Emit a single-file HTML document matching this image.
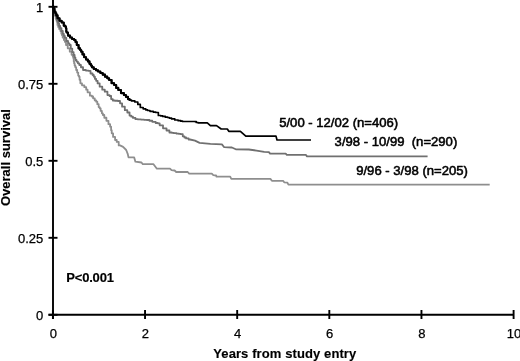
<!DOCTYPE html>
<html><head><meta charset="utf-8"><title>Overall survival</title>
<style>
html,body{margin:0;padding:0;background:#fff;}
svg{display:block;}
text{font-family:"Liberation Sans",sans-serif;font-size:13px;fill:#000;stroke:#000;stroke-width:0.55px;stroke-linejoin:round;}
.b{font-weight:bold;stroke-width:0.15px;}
.n{stroke-width:0.25px;}
.l{font-size:13.1px;}
</style></head><body>
<svg width="520" height="361" viewBox="0 0 520 361">
<rect width="520" height="361" fill="#fff"/>
<polyline points="53,6.5 53.24,6.5 53.24,8.58 53.79,8.58 53.79,11.26 54.3,11.26 54.3,13.0 54.5,13 54.9,13 54.9,15.81 55.71,15.81 55.71,18.66 56.31,18.66 56.31,20.0 56.5,20 56.73,20 56.73,21.63 57.43,21.63 57.43,24.9 58.2,24.9 58.2,27.0 58.5,27 59.15,27 59.15,29.07 60.4,29.07 60.4,31.0 61,31 61.32,31 61.32,33.54 61.82,33.54 61.82,35.0 62,35 62.64,35 62.64,37.55 63.89,37.55 63.89,40.0 64.5,40 64.92,40 64.92,41.9 66.02,41.9 66.02,45.0 66.7,45 67.72,45 67.72,48.34 69.77,48.34 69.77,51.7 70.8,51.7 71.57,51.7 71.57,54.78 72.82,54.78 72.82,56.7 73.3,56.7 73.42,56.7 73.42,58.43 73.75,58.43 73.75,61.54 74.08,61.54 74.08,63.3 74.2,63.3 74.61,63.3 74.61,65.5 75.33,65.5 75.33,67.16 76.17,67.16 76.17,70.0 76.7,70 77.17,70 77.17,72.55 78.22,72.55 78.22,75.58 78.99,75.58 78.99,76.7 79.2,76.7 79.57,76.7 79.57,79.73 80.37,79.73 80.37,83.3 80.8,83.3 81.99,83.3 81.99,85.28 84.34,85.28 84.34,87.2 85.5,87.2 86.18,87.2 86.18,89.69 87.58,89.69 87.58,92.3 88.3,92.3 89.9,92.3 89.9,95.66 91.9,95.66 91.9,96.5 92.3,96.5 93.09,96.5 93.09,98.37 94.74,98.37 94.74,100.41 96.15,100.41 96.15,101.7 96.7,101.7 97.32,101.7 97.32,104.17 98.65,104.17 98.65,107.03 99.68,107.03 99.68,108.3 100,108.3 100.64,108.3 100.64,110.91 101.87,110.91 101.87,113.29 102.88,113.29 102.88,115.0 103.3,115 104.3,115 104.3,117.77 106.4,117.77 106.4,120.8 107.5,120.8 108.45,120.8 108.45,124.21 110.1,124.21 110.1,126.7 110.8,126.7 111.11,126.7 111.11,130.16 111.71,130.16 111.71,133.3 112,133.3 113.07,133.3 113.07,136.88 115.07,136.88 115.07,140.0 116,140 116.71,140 116.71,141.93 118.71,141.93 118.71,145.4 120,145.4 123.1,146.9 126.2,150 127.7,153.8 128.5,157.4 134.2,157.4 135.4,161.7 141.5,162.5 142.8,164.2 153.5,164.2 156.9,168.7 170,168.7 171.5,170.2 174.6,170.5 176.2,172 187.7,172 189.2,173.7 211.8,173.7 213.3,175.1 216.1,175.5 216.5,176.7 230.2,176.7 231.3,178.9 270.4,178.9 271.9,180.8 283.1,180.8 284.2,182.3 287.4,182.7 288.4,184.6 489.7,184.6" fill="none" stroke="#8e8e8e" stroke-width="1.8" stroke-linejoin="round"/>
<polyline points="53,6.5 53.54,6.5 53.54,10.01 54.54,10.01 54.54,13.0 55,13 55.31,13 55.31,14.71 55.93,14.71 55.93,16.48 56.87,16.48 56.87,20.0 57.5,20 58.04,20 58.04,23.07 59.09,23.07 59.09,26.0 59.6,26 60.18,26 60.18,28.22 61.48,28.22 61.48,31.0 62.2,31 62.79,31 62.79,33.81 63.84,33.81 63.84,36.0 64.3,36 64.86,36 64.86,37.92 66.31,37.92 66.31,41.0 67.2,41 68.04,41 68.04,43.39 69.44,43.39 69.44,45.0 70,45 70.75,45 70.75,48.59 72.24,48.59 72.24,52.09 73.59,52.09 73.59,55.0 74.2,55 74.6,55 74.6,57.49 75.4,57.49 75.4,60.0 75.8,60 76.5,60 76.5,61.67 77.9,61.67 77.9,63.33 79.3,63.33 79.3,65.0 80,65 80.94,65 80.94,67.24 83.04,67.24 83.04,70.0 84.2,70 85.89,70 85.89,70.54 88.39,70.54 88.39,70.8 89.2,70.8 90.53,70.8 90.53,73.52 92.58,73.52 92.58,75.0 93.3,75 93.78,75 93.78,76.65 94.93,76.65 94.93,78.9 96.14,78.9 96.14,80.8 96.7,80.8 97.61,80.8 97.61,83.42 99.66,83.42 99.66,86.7 100.8,86.7 102.27,86.7 102.27,89.65 104.77,89.65 104.77,91.7 105.8,91.7 107.45,91.7 107.45,95.09 109.55,95.09 109.55,96.0 110,96 111.13,96 111.13,99.07 112.78,99.07 112.78,100.5 113.3,100.5 114.86,100.5 114.86,100.76 117.81,100.76 117.81,101.0 119.2,101 120.03,101 120.03,103.31 122.08,103.31 122.08,106.7 123.3,106.7 124.82,106.7 124.82,110.22 127.32,110.22 127.32,112.5 128.3,112.5 129.56,112.5 129.56,115.61 131.26,115.61 131.26,116.7 131.7,116.7 132.96,116.7 132.96,117.96 135.46,117.96 135.46,119.2 136.7,119.2 137.99,119.2 137.99,119.38 141.0,119.38 141.0,119.62 144.03,119.62 144.03,119.8 146.82,119.8 146.82,120.0 148.3,120 149.45,120 149.45,120.76 152.29,120.76 152.29,121.87 155.67,121.87 155.67,122.99 157.84,122.99 157.84,123.3 158.3,123.3 159.67,123.3 159.67,125.34 163.02,125.34 163.02,128.3 165,128.3 166.52,128.3 166.52,130.51 169.42,130.51 169.42,132.5 170.8,132.5 171.82,132.5 171.82,132.82 173.97,132.82 173.97,133.17 176.59,133.17 176.59,133.64 179.06,133.64 179.06,133.94 180.86,133.94 180.86,134.2 181.7,134.2 182.77,134.2 182.77,136.34 184.42,136.34 184.42,137.5 185,137.5 186.11,137.5 186.11,138.39 188.61,138.39 188.61,139.5 190,139.5 195,140.6 199.6,142.9 210.4,143.9 221.9,144.4 224.2,147.2 231.9,147.5 235.8,149.3 248.8,149.5 256.5,150.6 264.2,151.9 268.9,152.1 270.1,153.6 285.7,153.6 286.8,154.8 305.8,154.8 307,156.4 427.6,156.4" fill="none" stroke="#707070" stroke-width="1.8" stroke-linejoin="round"/>
<polyline points="53,6.5 53.38,6.5 53.38,8.37 54.45,8.37 54.45,11.66 55.46,11.66 55.46,13.3 55.8,13.3 56.33,13.3 56.33,15.41 57.58,15.41 57.58,18.3 58.3,18.3 59.55,18.3 59.55,20.8 61.65,20.8 61.65,22.5 62.5,22.5 63.75,22.5 63.75,25.68 65.4,25.68 65.4,26.7 65.8,26.7 65.93,26.7 65.93,28.36 66.31,28.36 66.31,31.63 66.63,31.63 66.63,32.5 66.7,32.5 67.98,32.5 67.98,35.62 70.03,35.62 70.03,37.5 70.8,37.5 72.05,37.5 72.05,38.98 74.15,38.98 74.15,40.0 75,40 75.51,40 75.51,42.06 76.76,42.06 76.76,45.0 77.5,45 78.57,45 78.57,48.4 80.15,48.4 80.15,50.06 81.19,50.06 81.19,51.7 81.7,51.7 82.5,51.7 82.5,54.38 84.15,54.38 84.15,57.2 85,57.2 86.04,57.2 86.04,59.56 87.89,59.56 87.89,61.4 88.7,61.4 89.49,61.4 89.49,63.84 90.81,63.84 90.81,65.5 91.92,65.5 91.92,67.3 92.5,67.3 93.74,67.3 93.74,68.95 95.99,68.95 95.99,70.3 97,70.3 98.03,70.3 98.03,71.49 100.38,71.49 100.38,73.0 101.7,73 102.72,73 102.72,74.64 105.0,74.64 105.0,76.66 107.28,76.66 107.28,78.3 108.3,78.3 109.12,78.3 109.12,79.94 111.58,79.94 111.58,83.22 114.11,83.22 114.11,85.0 115,85 116.21,85 116.21,87.88 118.31,87.88 118.31,90.0 119.2,90 120.99,90 120.99,93.09 123.89,93.09 123.89,95.0 125,95 125.92,95 125.92,96.84 127.97,96.84 127.97,99.11 129.55,99.11 129.55,100.0 130,100 131.51,100 131.51,100.9 134.86,100.9 134.86,102.0 136.7,102 137.81,102 137.81,104.44 140.31,104.44 140.31,107.5 141.7,107.5 143.17,107.5 143.17,108.84 145.74,108.84 145.74,109.84 147.57,109.84 147.57,110.5 148.3,110.5 149.98,110.5 149.98,111.3 153.31,111.3 153.31,112.09 155.83,112.09 155.83,112.5 156.7,112.5 158.35,112.5 158.35,115.5 160,115.5 160.83,115.5 160.83,115.9 162.71,115.9 162.71,116.4 165.35,116.4 165.35,117.17 167.62,117.17 167.62,117.5 168.3,117.5 169.27,117.5 169.27,118.08 171.59,118.08 171.59,118.88 174.82,118.88 174.82,120.0 176.7,120 178.17,120 178.17,120.67 180.82,120.67 180.82,121.2 182.65,121.2 182.65,121.5 183.3,121.5 195,121.5 195,121.6 196.31,121.6 196.31,122.5 198.21,122.5 198.21,122.9 198.8,122.9 207.3,122.9 207.3,122.9 210.4,125.6 216.5,125.6 221.2,129 227.3,129 228.8,131.3 240.4,131.3 245.8,136.1 276,136.1 277,140 311,140" fill="none" stroke="#000" stroke-width="1.7" stroke-linejoin="round"/>
<polyline points="53,6.5 53.38,6.5 53.38,8.37 54.45,8.37 54.45,11.66 55.46,11.66 55.46,13.3 55.8,13.3 56.33,13.3 56.33,15.41 57.58,15.41 57.58,18.3 58.3,18.3 59.55,18.3 59.55,20.8 61.65,20.8 61.65,22.5 62.5,22.5 63.75,22.5 63.75,25.68 65.4,25.68 65.4,26.7 65.8,26.7 65.93,26.7 65.93,28.36 66.31,28.36 66.31,31.63 66.63,31.63 66.63,32.5 66.7,32.5 67.98,32.5 67.98,35.62 70.03,35.62 70.03,37.5 70.8,37.5 72.05,37.5 72.05,38.98 74.15,38.98 74.15,40.0 75,40 75.51,40 75.51,42.06 76.76,42.06 76.76,45.0 77.5,45 78.57,45 78.57,48.4 80.15,48.4 80.15,50.06 81.19,50.06 81.19,51.7 81.7,51.7 82.5,51.7 82.5,54.38 84.15,54.38 84.15,57.2 85,57.2 86.04,57.2 86.04,59.56 87.89,59.56 87.89,61.4 88.7,61.4 89.49,61.4 89.49,63.84 90.81,63.84 90.81,65.5 91.92,65.5 91.92,67.3 92.5,67.3 93.74,67.3 93.74,68.95 95.99,68.95 95.99,70.3 97,70.3 98.03,70.3 98.03,71.49 100.38,71.49 100.38,73.0 101.7,73 102.72,73 102.72,74.64 105.0,74.64 105.0,76.66 107.28,76.66 107.28,78.3 108.3,78.3 109.12,78.3 109.12,79.94 111.58,79.94 111.58,83.22 114.11,83.22 114.11,85.0 115,85 116.21,85 116.21,87.88 118.31,87.88 118.31,90.0 119.2,90 120.99,90 120.99,93.09 123.89,93.09 123.89,95.0 125,95 125.92,95 125.92,96.84 127.97,96.84 127.97,99.11 129.55,99.11 129.55,100.0 130,100" fill="none" stroke="#000" stroke-width="2.1" stroke-linejoin="round" stroke-linecap="round"/>
<g stroke="#000" stroke-width="1.9" fill="none">
<line x1="53" y1="0" x2="53" y2="319"/>
<line x1="48.5" y1="314.7" x2="513.9" y2="314.7"/>
<line x1="52.90" y1="310" x2="52.90" y2="319"/><line x1="145.04" y1="310" x2="145.04" y2="319"/><line x1="237.18" y1="310" x2="237.18" y2="319"/><line x1="329.32" y1="310" x2="329.32" y2="319"/><line x1="421.46" y1="310" x2="421.46" y2="319"/><line x1="513.60" y1="310" x2="513.60" y2="319"/>
<line x1="48.5" y1="6.8" x2="57.5" y2="6.8"/><line x1="48.5" y1="83.8" x2="57.5" y2="83.8"/><line x1="48.5" y1="160.8" x2="57.5" y2="160.8"/><line x1="48.5" y1="237.8" x2="57.5" y2="237.8"/><line x1="48.5" y1="314.8" x2="57.5" y2="314.8"/>
</g>
<text class="n" x="53.30" y="337.7" text-anchor="middle">0</text><text class="n" x="145.44" y="337.7" text-anchor="middle">2</text><text class="n" x="237.58" y="337.7" text-anchor="middle">4</text><text class="n" x="329.72" y="337.7" text-anchor="middle">6</text><text class="n" x="421.86" y="337.7" text-anchor="middle">8</text><text class="n" x="514.00" y="337.7" text-anchor="middle">10</text>
<text class="n" x="43.3" y="11.6" text-anchor="end">1</text><text class="n" x="43.3" y="88.6" text-anchor="end">0.75</text><text class="n" x="43.3" y="165.60000000000002" text-anchor="end">0.5</text><text class="n" x="43.3" y="242.60000000000002" text-anchor="end">0.25</text><text class="n" x="43.3" y="319.6" text-anchor="end">0</text>
<text class="l" x="279.2" y="126.8">5/00 - 12/02 (n=406)</text>
<text class="l" x="334.6" y="146.3" xml:space="preserve">3/98 - 10/99  (n=290)</text>
<text class="l" x="356.2" y="175">9/96 - 3/98 (n=205)</text>
<text class="b" x="66.3" y="282.1" letter-spacing="-0.2">P&lt;0.001</text>
<text class="b" x="284.8" y="357.8" text-anchor="middle" letter-spacing="0.1">Years from study entry</text>
<text class="b" transform="translate(10.3,157.6) rotate(-90)" text-anchor="middle">Overall survival</text>
</svg>
</body></html>
